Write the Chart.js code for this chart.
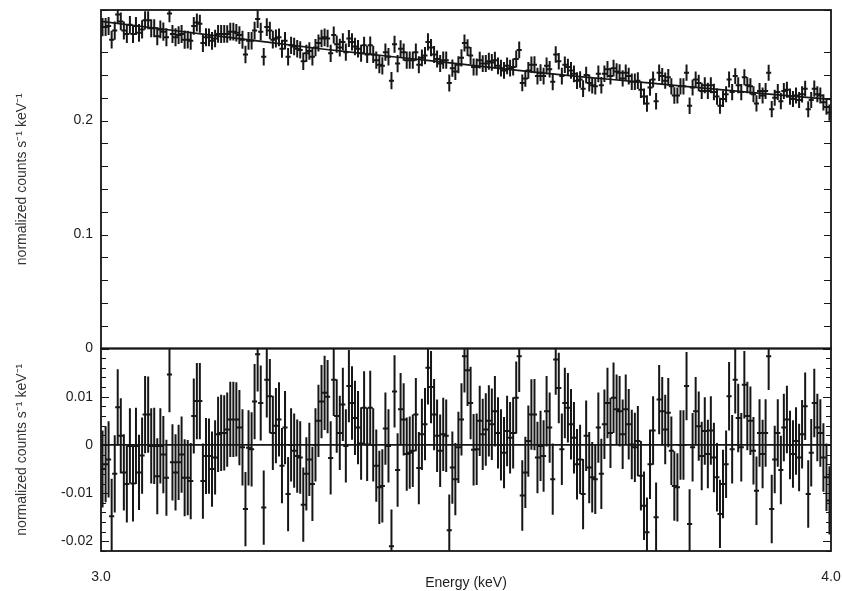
<!DOCTYPE html>
<html>
<head>
<meta charset="utf-8">
<title>3-4 keV spectrum</title>
<script src="https://cdn.jsdelivr.net/npm/chart.js@4.4.1/dist/chart.umd.min.js"></script>
<style>
  html, body { margin: 0; padding: 0; background: #fff; }
  #wrap { width: 842px; height: 591px; }
</style>
</head>
<body>
<div id="wrap"><canvas id="spec" width="842" height="591"></canvas></div>
<script>
// ── Data ─────────────────────────────────────────────────────────────────────

// channel centres (keV)
const energy = [
  3.0021,3.0063,3.0104,3.0146,3.0188,3.0229,3.0271,3.0313,3.0354,3.0396,3.0438,3.0479,
  3.0521,3.0563,3.0604,3.0646,3.0688,3.0729,3.0771,3.0813,3.0854,3.0896,3.0938,3.0979,
  3.1021,3.1063,3.1104,3.1146,3.1188,3.1229,3.1271,3.1313,3.1354,3.1396,3.1438,3.1479,
  3.1521,3.1563,3.1604,3.1646,3.1688,3.1729,3.1771,3.1813,3.1854,3.1896,3.1938,3.1979,
  3.2021,3.2063,3.2104,3.2146,3.2188,3.2229,3.2271,3.2313,3.2354,3.2396,3.2438,3.2479,
  3.2521,3.2563,3.2604,3.2646,3.2688,3.2729,3.2771,3.2813,3.2854,3.2896,3.2938,3.2979,
  3.3021,3.3063,3.3104,3.3146,3.3188,3.3229,3.3271,3.3313,3.3354,3.3396,3.3438,3.3479,
  3.3521,3.3563,3.3604,3.3646,3.3688,3.3729,3.3771,3.3813,3.3854,3.3896,3.3938,3.3979,
  3.4021,3.4063,3.4104,3.4146,3.4188,3.4229,3.4271,3.4313,3.4354,3.4396,3.4438,3.4479,
  3.4521,3.4563,3.4604,3.4646,3.4688,3.4729,3.4771,3.4813,3.4854,3.4896,3.4938,3.4979,
  3.5021,3.5063,3.5104,3.5146,3.5188,3.5229,3.5271,3.5313,3.5354,3.5396,3.5438,3.5479,
  3.5521,3.5563,3.5604,3.5646,3.5688,3.5729,3.5771,3.5813,3.5854,3.5896,3.5938,3.5979,
  3.6021,3.6063,3.6104,3.6146,3.6188,3.6229,3.6271,3.6313,3.6354,3.6396,3.6438,3.6479,
  3.6521,3.6563,3.6604,3.6646,3.6688,3.6729,3.6771,3.6813,3.6854,3.6896,3.6938,3.6979,
  3.7021,3.7063,3.7104,3.7146,3.7188,3.7229,3.7271,3.7313,3.7354,3.7396,3.7438,3.7479,
  3.7521,3.7563,3.7604,3.7646,3.7688,3.7729,3.7771,3.7813,3.7854,3.7896,3.7938,3.7979,
  3.8021,3.8063,3.8104,3.8146,3.8188,3.8229,3.8271,3.8313,3.8354,3.8396,3.8438,3.8479,
  3.8521,3.8563,3.8604,3.8646,3.8688,3.8729,3.8771,3.8813,3.8854,3.8896,3.8938,3.8979,
  3.9021,3.9063,3.9104,3.9146,3.9188,3.9229,3.9271,3.9313,3.9354,3.9396,3.9438,3.9479,
  3.9521,3.9563,3.9604,3.9646,3.9688,3.9729,3.9771,3.9813,3.9854,3.9896,3.9938,3.9979
];

// normalized counts s^-1 keV^-1 per channel
const rate = [
  0.282,0.282,0.283,0.271,0.279,0.293,0.287,0.279,0.276,0.284,0.276,0.283,
  0.277,0.280,0.288,0.288,0.281,0.281,0.274,0.280,0.278,0.273,0.294,0.276,
  0.273,0.275,0.276,0.271,0.271,0.270,0.283,0.286,0.285,0.268,0.273,0.273,
  0.270,0.272,0.276,0.276,0.276,0.276,0.278,0.278,0.277,0.275,0.271,0.258,
  0.270,0.270,0.279,0.289,0.278,0.256,0.282,0.279,0.271,0.272,0.273,0.263,
  0.270,0.256,0.266,0.265,0.263,0.262,0.252,0.259,0.261,0.256,0.264,0.268,
  0.272,0.273,0.272,0.259,0.275,0.267,0.264,0.269,0.260,0.272,0.269,0.265,
  0.263,0.259,0.266,0.258,0.266,0.258,0.253,0.249,0.248,0.260,0.256,0.235,
  0.267,0.250,0.263,0.260,0.253,0.253,0.253,0.260,0.249,0.255,0.257,0.269,
  0.264,0.258,0.254,0.250,0.253,0.253,0.233,0.246,0.243,0.249,0.255,0.268,
  0.264,0.257,0.247,0.247,0.253,0.250,0.250,0.252,0.251,0.253,0.248,0.246,
  0.244,0.248,0.246,0.247,0.254,0.262,0.233,0.237,0.244,0.249,0.249,0.239,
  0.242,0.239,0.248,0.245,0.234,0.258,0.252,0.239,0.249,0.247,0.244,0.241,
  0.235,0.236,0.228,0.240,0.233,0.231,0.230,0.241,0.231,0.241,0.245,0.239,
  0.246,0.243,0.242,0.237,0.242,0.239,0.234,0.234,0.235,0.227,0.221,0.215,
  0.229,0.236,0.217,0.242,0.239,0.235,0.238,0.230,0.222,0.222,0.230,0.230,
  0.242,0.213,0.229,0.236,0.233,0.226,0.231,0.226,0.231,0.225,0.221,0.213,
  0.219,0.223,0.236,0.225,0.239,0.231,0.225,0.238,0.231,0.230,0.223,0.215,
  0.226,0.222,0.226,0.242,0.210,0.220,0.225,0.217,0.226,0.227,0.221,0.219,
  0.222,0.218,0.223,0.228,0.210,0.218,0.228,0.223,0.222,0.216,0.212,0.207
];

// 1-sigma half length per channel (same for data and residuals)
const rateErr = [
  0.0080,0.0079,0.0079,0.0078,0.0080,0.0079,0.0078,0.0079,0.0080,0.0078,0.0079,0.0079,
  0.0078,0.0079,0.0080,0.0079,0.0078,0.0079,0.0079,0.0078,0.0080,0.0079,0.0078,0.0079,
  0.0079,0.0078,0.0079,0.0080,0.0078,0.0079,0.0078,0.0079,0.0079,0.0078,0.0079,0.0078,
  0.0078,0.0077,0.0078,0.0079,0.0078,0.0077,0.0078,0.0078,0.0077,0.0078,0.0079,0.0077,
  0.0078,0.0077,0.0078,0.0077,0.0078,0.0077,0.0078,0.0077,0.0077,0.0078,0.0077,0.0078,
  0.0076,0.0077,0.0076,0.0077,0.0076,0.0075,0.0077,0.0076,0.0076,0.0077,0.0076,0.0075,
  0.0076,0.0077,0.0076,0.0076,0.0075,0.0076,0.0077,0.0076,0.0076,0.0075,0.0076,0.0077,
  0.0076,0.0075,0.0076,0.0076,0.0077,0.0076,0.0075,0.0076,0.0076,0.0075,0.0076,0.0076,
  0.0075,0.0076,0.0075,0.0075,0.0076,0.0075,0.0075,0.0076,0.0075,0.0074,0.0075,0.0076,
  0.0075,0.0074,0.0075,0.0075,0.0076,0.0075,0.0074,0.0075,0.0075,0.0074,0.0075,0.0075,
  0.0074,0.0075,0.0074,0.0074,0.0073,0.0074,0.0075,0.0074,0.0074,0.0073,0.0074,0.0074,
  0.0074,0.0073,0.0074,0.0074,0.0075,0.0074,0.0073,0.0074,0.0074,0.0073,0.0074,0.0074,
  0.0073,0.0074,0.0073,0.0073,0.0074,0.0073,0.0073,0.0074,0.0073,0.0072,0.0073,0.0074,
  0.0073,0.0072,0.0073,0.0073,0.0074,0.0073,0.0072,0.0073,0.0073,0.0072,0.0073,0.0073,
  0.0073,0.0072,0.0073,0.0072,0.0072,0.0073,0.0072,0.0072,0.0073,0.0072,0.0071,0.0072,
  0.0072,0.0071,0.0072,0.0072,0.0071,0.0072,0.0072,0.0071,0.0072,0.0071,0.0072,0.0072,
  0.0071,0.0072,0.0071,0.0071,0.0072,0.0071,0.0070,0.0071,0.0071,0.0072,0.0071,0.0071,
  0.0071,0.0070,0.0071,0.0071,0.0070,0.0071,0.0071,0.0070,0.0071,0.0071,0.0070,0.0071,
  0.0070,0.0071,0.0070,0.0070,0.0071,0.0070,0.0070,0.0071,0.0070,0.0070,0.0071,0.0070,
  0.0070,0.0070,0.0071,0.0070,0.0070,0.0070,0.0071,0.0070,0.0070,0.0071,0.0070,0.0071
];

// data minus model, same units
const resid = [
  -0.0050,-0.0040,-0.0030,-0.0148,-0.0060,0.0078,0.0019,-0.0057,-0.0081,-0.0002,-0.0080,-0.0002,
  -0.0057,-0.0022,0.0063,0.0063,-0.0002,-0.0002,-0.0065,-0.0002,-0.0020,-0.0068,0.0146,-0.0036,
  -0.0057,-0.0036,-0.0020,-0.0068,-0.0068,-0.0075,0.0060,0.0091,0.0091,-0.0075,-0.0023,-0.0023,
  -0.0050,-0.0026,0.0022,0.0025,0.0025,0.0032,0.0053,0.0053,0.0053,0.0036,-0.0005,-0.0133,
  -0.0006,-0.0009,0.0090,0.0188,0.0087,-0.0130,0.0135,0.0101,0.0025,0.0040,0.0053,-0.0043,
  0.0036,-0.0102,0.0000,-0.0012,-0.0023,-0.0026,-0.0124,-0.0060,-0.0030,-0.0081,0.0000,0.0050,
  0.0090,0.0108,0.0100,-0.0027,0.0135,0.0060,0.0025,0.0084,-0.0002,0.0122,0.0087,0.0056,
  0.0036,0.0003,0.0077,0.0001,0.0077,0.0000,-0.0043,-0.0088,-0.0085,0.0034,-0.0002,-0.0210,
  0.0111,-0.0052,0.0074,0.0053,-0.0019,-0.0016,-0.0012,0.0063,-0.0048,0.0022,0.0043,0.0160,
  0.0120,0.0063,0.0019,-0.0012,0.0022,0.0019,-0.0177,-0.0047,-0.0071,-0.0005,0.0053,0.0184,
  0.0155,0.0087,-0.0010,-0.0009,0.0050,0.0022,0.0032,0.0050,0.0043,0.0070,0.0025,0.0000,
  -0.0016,0.0029,0.0015,0.0025,0.0098,0.0184,-0.0105,-0.0057,0.0008,0.0063,0.0063,-0.0026,
  -0.0002,-0.0023,0.0070,0.0036,-0.0071,0.0177,0.0118,-0.0009,0.0087,0.0077,0.0043,0.0015,
  -0.0040,-0.0030,-0.0102,0.0019,-0.0047,-0.0067,-0.0071,0.0036,-0.0060,0.0043,0.0087,0.0025,
  0.0098,0.0074,0.0070,0.0022,0.0074,0.0043,0.0001,-0.0005,0.0008,-0.0064,-0.0126,-0.0181,
  -0.0040,0.0030,-0.0150,0.0094,0.0070,0.0032,0.0067,-0.0012,-0.0085,-0.0088,0.0000,0.0000,
  0.0122,-0.0164,-0.0005,0.0070,0.0039,-0.0023,0.0029,-0.0019,0.0030,-0.0026,-0.0067,-0.0143,
  -0.0081,-0.0040,0.0101,-0.0009,0.0135,0.0056,-0.0005,0.0125,0.0060,0.0050,-0.0012,-0.0095,
  0.0025,-0.0019,0.0025,0.0184,-0.0133,-0.0030,0.0025,-0.0052,0.0036,0.0053,0.0000,-0.0019,
  0.0008,-0.0026,0.0022,0.0080,-0.0102,-0.0016,0.0087,0.0036,0.0025,-0.0026,-0.0067,-0.0115
];

// best-fit model curve
const modelE    = [3.0, 3.1, 3.2, 3.3, 3.4, 3.5, 3.6, 3.7, 3.8, 3.9, 4.0];
const modelRate = [0.287, 0.279, 0.271, 0.263, 0.256, 0.249, 0.242, 0.236, 0.230, 0.224, 0.2185];

// labelled ticks
const energyTicks = [3.0, 4.0];
const rateTicks   = [0, 0.1, 0.2];
const residTicks  = [-0.02, -0.01, 0, 0.01];

const yTitle = 'normalized counts s\u207B\u00B9 keV\u207B\u00B9';

// ── Style ────────────────────────────────────────────────────────────────────

const INK  = '#161616';
const FONT = "'Liberation Sans', Arial, sans-serif";
const capHalfWidth = 0.0035;   // keV either side of a channel centre

Chart.defaults.font.family = FONT;
Chart.defaults.font.size = 14;
Chart.defaults.color = '#1e1e1e';

// ── Helpers ──────────────────────────────────────────────────────────────────

function pairs(xs, ys) {
    return xs.map((x, i) => ({ x, y: ys[i] }));
}

function labelsFrom(list) {
    return v => {
        const hit = list.find(t => Math.abs(t - v) < 1e-6);
        return hit === undefined ? '' : String(hit);
    };
}

function isMultiple(v, step) {
    const q = v / step;
    return Math.abs(q - Math.round(q)) < 1e-6;
}

// fixed outer margins: label overhang must not push the plot box around
function pinPadding(top, right) {
    return s => {
        s.paddingTop = top;
        s.paddingBottom = 0;
        s.paddingLeft = 0;
        s.paddingRight = right;
    };
}

// ── Plugins ──────────────────────────────────────────────────────────────────

// vertical error bars + channel caps, clipped to the panel of their own axis
const errorBars = {
    id: 'errorBars',
    afterDatasetsDraw(chart) {
        const { ctx } = chart;
        const xs = chart.scales.x;
        chart.data.datasets.forEach(ds => {
            if (!ds.yErr) return;
            const ys = chart.scales[ds.yAxisID];
            ctx.save();
            ctx.beginPath();
            ctx.rect(xs.left, ys.top, xs.right - xs.left, ys.bottom - ys.top);
            ctx.clip();
            ctx.strokeStyle = INK;
            ctx.lineWidth = 2;
            ctx.beginPath();
            ds.data.forEach((p, j) => {
                const px = xs.getPixelForValue(p.x);
                const py = ys.getPixelForValue(p.y);
                ctx.moveTo(px, ys.getPixelForValue(p.y - ds.yErr[j]));
                ctx.lineTo(px, ys.getPixelForValue(p.y + ds.yErr[j]));
                ctx.moveTo(xs.getPixelForValue(p.x - capHalfWidth), py);
                ctx.lineTo(xs.getPixelForValue(p.x + capHalfWidth), py);
            });
            ctx.stroke();
            ctx.restore();
        });
    }
};

// panel frames, inward tick marks and the energy caption
const panelFrames = {
    id: 'panelFrames',
    afterDraw(chart) {
        const { ctx } = chart;
        const xs = chart.scales.x;
        const tickLen = {
            y:  () => 7,
            y2: v => (isMultiple(v, 0.01) ? 8 : 5)
        };
        ctx.save();
        ctx.strokeStyle = INK;
        ['y', 'y2'].forEach(id => {
            const s = chart.scales[id];
            ctx.lineWidth = 1.2;
            ctx.beginPath();
            s.ticks.forEach(t => {
                const py = Math.round(s.getPixelForValue(t.value)) + 0.5;
                const len = tickLen[id](t.value);
                ctx.moveTo(xs.left, py);  ctx.lineTo(xs.left + len, py);
                ctx.moveTo(xs.right, py); ctx.lineTo(xs.right - len, py);
            });
            ctx.stroke();
            ctx.lineWidth = 1.8;
            ctx.strokeRect(xs.left, s.top, xs.right - xs.left, s.bottom - s.top);
        });
        ctx.fillStyle = '#1e1e1e';
        ctx.font = `14px ${FONT}`;
        ctx.textAlign = 'center';
        ctx.textBaseline = 'middle';
        ctx.fillText('Energy (keV)', (xs.left + xs.right) / 2, 583);
        ctx.restore();
    }
};

// ── Chart ────────────────────────────────────────────────────────────────────

function hiddenGrid() {
    return { display: false, drawTicks: false };
}

function initSpectrum() {
    const ctx = document.getElementById('spec').getContext('2d');

    new Chart(ctx, {
        type: 'scatter',
        data: {
            datasets: [
                {
                    label: 'data',
                    data: pairs(energy, rate),
                    yErr: rateErr,
                    yAxisID: 'y',
                    pointRadius: 0
                },
                {
                    label: 'model',
                    data: pairs(modelE, modelRate),
                    yAxisID: 'y',
                    showLine: true,
                    borderColor: INK,
                    borderWidth: 1.7,
                    pointRadius: 0,
                    cubicInterpolationMode: 'monotone'
                },
                {
                    label: 'residuals',
                    data: pairs(energy, resid),
                    yErr: rateErr,
                    yAxisID: 'y2',
                    pointRadius: 0
                },
                {
                    label: 'zero',
                    data: pairs(energyTicks, [0, 0]),
                    yAxisID: 'y2',
                    showLine: true,
                    borderColor: INK,
                    borderWidth: 1.7,
                    pointRadius: 0
                }
            ]
        },
        options: {
            responsive: false,
            animation: false,
            devicePixelRatio: 1,
            layout: { padding: 0 },
            plugins: { legend: { display: false }, tooltip: { enabled: false } },
            scales: {
                x: {
                    type: 'linear',
                    position: 'bottom',
                    min: 3,
                    max: 4,
                    grid: hiddenGrid(),
                    border: { display: false },
                    afterBuildTicks: s => { s.ticks = energyTicks.map(v => ({ value: v })); },
                    ticks: { padding: 18, maxRotation: 0, autoSkip: false,
                             callback: v => Number(v).toFixed(1) },
                    afterFit: s => { s.height = 40; pinPadding(0, 11)(s); }
                },
                // residual panel first in the stack so it lands underneath
                y2: {
                    type: 'linear',
                    position: 'left',
                    stack: 'panels',
                    stackWeight: 202.5,
                    min: -0.022,
                    max: 0.02,
                    grid: hiddenGrid(),
                    border: { display: false },
                    ticks: { stepSize: 0.002, autoSkip: false, maxTicksLimit: 100, padding: 8,
                             callback: labelsFrom(residTicks) },
                    title: { display: true, text: yTitle, color: '#333',
                             font: { size: 14 }, padding: { top: 14, bottom: 0 } },
                    afterFit: s => { s.width = 101; pinPadding(0, 0)(s); }
                },
                y: {
                    type: 'linear',
                    position: 'left',
                    stack: 'panels',
                    stackWeight: 338.5,
                    min: 0,
                    max: 0.297,
                    grid: hiddenGrid(),
                    border: { display: false },
                    ticks: { stepSize: 0.02, autoSkip: false, maxTicksLimit: 100, padding: 8,
                             callback: labelsFrom(rateTicks) },
                    title: { display: true, text: yTitle, color: '#333',
                             font: { size: 14 }, padding: { top: 14, bottom: 0 } },
                    afterFit: s => { s.width = 101; pinPadding(10, 0)(s); }
                }
            }
        },
        plugins: [errorBars, panelFrames]
    });
}

document.addEventListener('DOMContentLoaded', initSpectrum);
</script>
</body>
</html>
